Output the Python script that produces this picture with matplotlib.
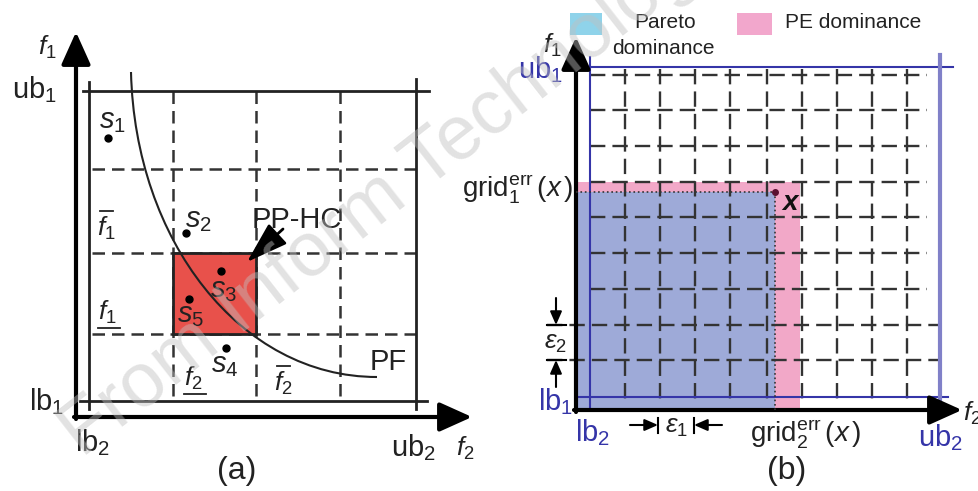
import matplotlib.pyplot as plt
from matplotlib.path import Path
from matplotlib.patches import PathPatch, Rectangle

plt.rcParams['font.family'] = ['Liberation Sans', 'DejaVu Sans']
plt.rcParams['mathtext.fontset'] = 'custom'
plt.rcParams['mathtext.rm'] = 'Liberation Sans'
plt.rcParams['mathtext.it'] = 'Liberation Sans:italic'
plt.rcParams['mathtext.bf'] = 'Liberation Sans:bold:italic'

# ---- panel (a): grid of the objective space (pixel units of the picture)
a_x_lo, a_x_hi = 89, 416          # lb2, ub2
a_y_lo, a_y_hi = 401, 91          # lb1, ub1
a_dash_x = [173, 256, 340]
a_dash_y = [169, 253, 334]
a_cell = (173, 253, 256, 334)     # the PP-HC hyperbox
pf_ctrl = [(131, 72), (135, 240), (240, 377), (377, 377)]
sol_names = ['s_1', 's_2', 's_3', 's_5', 's_4']
sol_x = [108, 186, 221, 189, 226]
sol_y = [138, 233, 271, 299, 348]
sol_lab_x = [112, 198, 224, 191, 225]
sol_lab_y = [121, 220, 290, 315, 365]
bar_labels = ['$f_1$', '$f_1$', '$f_2$', '$f_2$']
bar_x = [106, 107, 193, 283]
bar_y = [228, 312, 378, 383]
bar_kind = ['over', 'under', 'under', 'over']

# ---- panel (b): epsilon grid
b_x_lo, b_x_hi = 590, 940
b_y_lo, b_y_hi = 397, 67
b_cols = [625, 660, 695, 730, 767, 802, 837, 872, 907]
b_rows = [75, 110, 146, 182, 217, 253, 289, 325, 360]
x_point = (775, 192)
pe_corner = (800, 182)

fig = plt.figure(figsize=(9.79, 4.91), dpi=100)
ax = fig.add_axes([0, 0, 1, 1])
ax.set_xlim(0, 979)
ax.set_ylim(491, 0)
ax.axis('off')

txt = '#222222'
blue = '#3535a8'


def axis_arrow(x0, y0, x1, y1):
    ax.annotate('', xy=(x1, y1), xytext=(x0, y0),
                arrowprops=dict(arrowstyle='-|>,head_length=1.0,head_width=0.45',
                                mutation_scale=20, lw=3, color='k',
                                shrinkA=0, shrinkB=0))


def small_arrow(x0, y0, x1, y1):
    ax.annotate('', xy=(x1, y1), xytext=(x0, y0),
                arrowprops=dict(arrowstyle='-|>,head_length=0.8,head_width=0.35',
                                mutation_scale=10, lw=1.5, color='k',
                                shrinkA=0, shrinkB=0))


# ================= panel (a) =================
dash_a = (0, (5, 2.8))
for x in a_dash_x:
    ax.plot([x, x], [a_y_hi, a_y_lo], color='#333', lw=1.8, ls=dash_a)
for y in a_dash_y:
    ax.plot([a_x_lo + 3, a_x_hi], [y, y], color='#333', lw=1.8, ls=dash_a)

x0, y0, x1, y1 = a_cell
ax.add_patch(Rectangle((x0, y0), x1 - x0, y1 - y0, facecolor='#e8514b',
                       edgecolor='#222', lw=2, zorder=3))

ax.plot([a_x_lo - 6, a_x_hi + 13], [a_y_hi, a_y_hi], color='#222', lw=2)
ax.plot([a_x_lo - 9, a_x_hi + 11], [a_y_lo, a_y_lo], color='#222', lw=2)
ax.plot([a_x_lo, a_x_lo], [a_y_hi - 9, a_y_lo + 8], color='#222', lw=2)
ax.plot([a_x_hi, a_x_hi], [a_y_hi - 12, a_y_lo + 8], color='#222', lw=2)

axis_arrow(76, 419, 76, 32)
axis_arrow(74, 417, 472, 417)

pf = Path(pf_ctrl, [Path.MOVETO, Path.CURVE4, Path.CURVE4, Path.CURVE4])
ax.add_patch(PathPatch(pf, facecolor='none', edgecolor='#222', lw=1.5, zorder=4))

for n, px, py, lx, ly in zip(sol_names, sol_x, sol_y, sol_lab_x, sol_lab_y):
    ax.plot(px, py, 'o', color='k', ms=5, zorder=5)
    ax.text(lx, ly, '$' + n + '$', fontsize=21, color=txt, ha='center',
            va='center', zorder=5)

for lab, lx, ly, kind in zip(bar_labels, bar_x, bar_y, bar_kind):
    ax.text(lx, ly, lab, fontsize=19, color=txt, ha='center', va='center')
    if kind == 'over':
        ax.plot([lx - 6, lx + 7], [ly - 17, ly - 17], color=txt, lw=1.3)
    else:
        ax.plot([lx - 9, lx + 13], [ly + 16, ly + 16], color=txt, lw=1.3)

ax.text(297, 220, 'PP-HC', fontsize=21, color=txt, ha='center', va='center', zorder=5)
ax.annotate('', xy=(247, 262), xytext=(283, 229),
            arrowprops=dict(arrowstyle='-|>,head_length=1.3,head_width=0.42',
                            mutation_scale=20, lw=2, color='k',
                            shrinkA=0, shrinkB=0), zorder=6)
ax.text(388, 362, 'PF', fontsize=21, color=txt, ha='center', va='center')

ax.text(47, 47, '$f_1$', fontsize=19, color=txt, ha='center', va='center')
ax.text(465, 448, '$f_2$', fontsize=19, color=txt, ha='center', va='center')
ax.text(34, 90, 'ub$_1$', fontsize=21, color=txt, ha='center', va='center')
ax.text(47, 402, 'lb$_1$', fontsize=21, color=txt, ha='center', va='center')
ax.text(93, 443, 'lb$_2$', fontsize=21, color=txt, ha='center', va='center')
ax.text(413, 448, 'ub$_2$', fontsize=21, color=txt, ha='center', va='center')
ax.text(237, 471, '(a)', fontsize=23, color=txt, ha='center', va='center')

# ================= panel (b) =================
ax.add_patch(Rectangle((576, pe_corner[1]), pe_corner[0] - 576, 410 - pe_corner[1],
                       facecolor='#f2a8c8', edgecolor='none', zorder=1))
ax.add_patch(Rectangle((576, x_point[1]), x_point[0] - 576, 410 - x_point[1],
                       facecolor='#9eaad8', edgecolor='none', zorder=1))

dash_b = (0, (6.5, 3.0))
for x in b_cols:
    ax.plot([x, x], [b_rows[0] - 6, b_y_lo + 8], color='#333', lw=1.7, ls=dash_b, zorder=2)
for y in b_rows:
    if y > 300:
        ax.plot([547, 938], [y, y], color='#333', lw=1.7, ls=dash_b, zorder=2)
    else:
        ax.plot([b_x_lo, 927], [y, y], color='#333', lw=1.7, ls=dash_b, zorder=2)

ax.plot([583, 953], [b_y_hi, b_y_hi], color=blue, lw=1.5, zorder=3)
ax.plot([578, 948], [b_y_lo, b_y_lo], color=blue, lw=1.5, zorder=3)
ax.plot([b_x_lo, b_x_lo], [57, 410], color=blue, lw=1.5, zorder=3)
ax.plot([b_x_hi, b_x_hi], [55, 410], color='#8080c8', lw=3, zorder=3)

axis_arrow(576, 412, 576, 37)
axis_arrow(574, 410, 962, 410)

ax.plot([576, x_point[0]], [x_point[1], x_point[1]], color='#333', lw=1.2, ls=':', zorder=4)
ax.plot([x_point[0], x_point[0]], [x_point[1], 410], color='#333', lw=1.2, ls=':', zorder=4)
ax.plot(*x_point, 'o', color='#5a1030', ms=4, zorder=5)
ax.text(791, 203, r'$\mathbf{x}$', fontsize=20, color='#111', ha='center', va='center', zorder=5)

# epsilon markers
ax.plot([547, 566], [325, 325], color='k', lw=1.5)
ax.plot([547, 566], [360, 360], color='k', lw=1.5)
small_arrow(556, 298, 556, 325)
small_arrow(556, 387, 556, 360)
ax.text(555, 343, r'$\varepsilon_2$', fontsize=19, color=txt, ha='center', va='center')
ax.plot([658, 658], [418, 433], color='k', lw=1.5)
ax.plot([694, 694], [418, 433], color='k', lw=1.5)
small_arrow(630, 425, 658, 425)
small_arrow(722, 425, 694, 425)
ax.text(676, 427, r'$\varepsilon_1$', fontsize=19, color=txt, ha='center', va='center')

ax.text(573, 190, r'grid$_1^{\mathrm{err}}\,(\mathit{x}\,)$', fontsize=20, color=txt,
        ha='right', va='center')
ax.text(806, 435, r'grid$_2^{\mathrm{err}}\,(\mathit{x}\,)$', fontsize=20, color=txt,
        ha='center', va='center')

ax.text(552, 45, '$f_1$', fontsize=19, color=txt, ha='center', va='center')
ax.text(972, 413, '$f_2$', fontsize=19, color=txt, ha='center', va='center')
ax.text(540, 70, 'ub$_1$', fontsize=21, color=blue, ha='center', va='center')
ax.text(556, 402, 'lb$_1$', fontsize=21, color=blue, ha='center', va='center')
ax.text(593, 433, 'lb$_2$', fontsize=21, color=blue, ha='center', va='center')
ax.text(940, 438, 'ub$_2$', fontsize=21, color=blue, ha='center', va='center')
ax.text(787, 471, '(b)', fontsize=23, color=txt, ha='center', va='center')

# legend
ax.add_patch(Rectangle((570, 13), 32, 22, facecolor='#8fd3ea', edgecolor='none'))
ax.add_patch(Rectangle((737, 13), 35, 22, facecolor='#f2a7cc', edgecolor='none'))
ax.text(665, 22, 'Pareto', fontsize=15, color=txt, ha='center', va='center')
ax.text(663, 48, 'dominance', fontsize=15, color=txt, ha='center', va='center')
ax.text(853, 22, 'PE dominance', fontsize=15, color=txt, ha='center', va='center')

# watermark
ax.text(82, 458, 'From Inform Technology', fontsize=55, color='#c0c0c0', alpha=0.45,
        rotation=38, rotation_mode='anchor', ha='left', va='baseline', zorder=10)

fig.savefig('out.png', dpi=100)
